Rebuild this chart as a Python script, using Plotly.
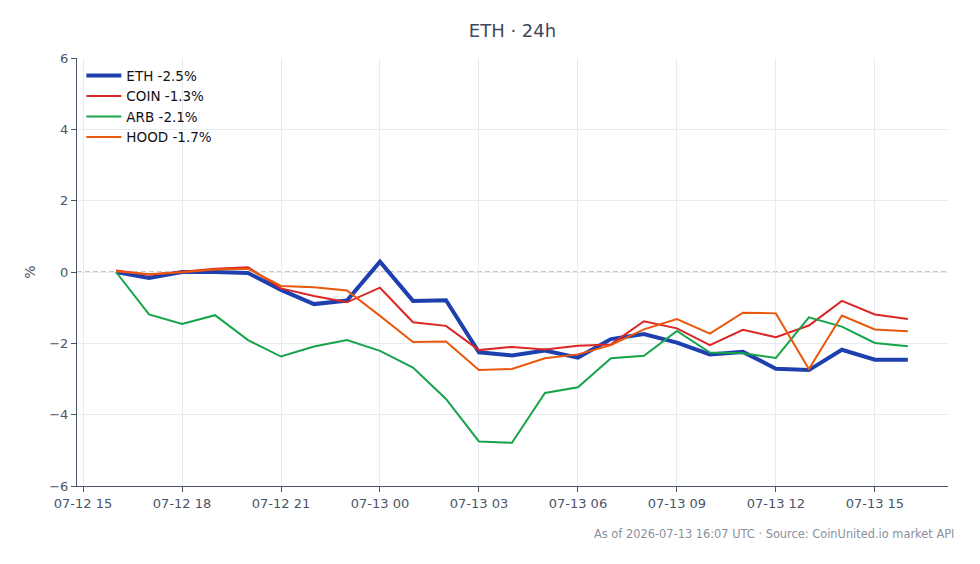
import plotly.graph_objects as go
import pandas as pd

times = pd.date_range("2026-07-12 16:00", "2026-07-13 16:00", freq="h")

eth = [0.0, -0.17, 0.0, 0.0, -0.03, -0.5, -0.9, -0.8, 0.29, -0.81, -0.79, -2.25, -2.34, -2.2, -2.4,
       -1.88, -1.74, -1.98, -2.31, -2.24, -2.71, -2.75, -2.18, -2.46, -2.46]
coin = [0.04, -0.08, 0.01, 0.09, 0.13, -0.46, -0.67, -0.85, -0.44, -1.41, -1.51, -2.19, -2.1, -2.17, -2.07,
        -2.03, -1.38, -1.58, -2.05, -1.62, -1.83, -1.5, -0.81, -1.19, -1.32]
arb = [0.0, -1.19, -1.46, -1.21, -1.91, -2.37, -2.09, -1.91, -2.21, -2.68, -3.56, -4.75, -4.79, -3.39, -3.23,
       -2.42, -2.35, -1.65, -2.26, -2.28, -2.41, -1.27, -1.53, -1.99, -2.08]
hood = [0.02, -0.06, -0.01, 0.07, 0.09, -0.39, -0.43, -0.52, -1.23, -1.96, -1.95, -2.75, -2.72, -2.42, -2.31,
        -2.05, -1.61, -1.32, -1.73, -1.14, -1.16, -2.72, -1.22, -1.61, -1.66]

series = [
    ("ETH -2.5%", eth, "#1e40af", 4),
    ("COIN -1.3%", coin, "#dc2626", 2),
    ("ARB -2.1%", arb, "#16a34a", 2),
    ("HOOD -1.7%", hood, "#ea580c", 2),
]

fig = go.Figure()
for name, vals, color, w in series:
    fig.add_trace(go.Scatter(x=times, y=vals, mode="lines", name=name,
                             line=dict(color=color, width=w)))

fig.add_shape(type="line", xref="paper", x0=0, x1=1, yref="y", y0=0, y1=0,
              line=dict(color="#8592aa", width=1, dash="5px,3px"), layer="between")

axis_font = dict(family="DejaVu Sans", size=13, color="#4a5568")
fig.update_layout(
    width=980, height=564,
    margin=dict(l=77, r=32, t=58, b=78),
    paper_bgcolor="white", plot_bgcolor="white",
    font=dict(family="DejaVu Sans", size=13, color="#4a5568"),
    title=dict(text="ETH · 24h", x=0.5, xref="paper", xanchor="center", y=0.945, yanchor="middle",
               font=dict(family="DejaVu Sans", size=18, color="#3f4a5c")),
    showlegend=True,
    legend=dict(x=0.005, y=0.995, xanchor="left", yanchor="top", bgcolor="rgba(255,255,255,0)",
                itemwidth=35,
                font=dict(family="DejaVu Sans", size=13.5, color="#111111"), tracegroupgap=0),
    xaxis=dict(range=["2026-07-12 14:49", "2026-07-13 17:13"], tickformat="%m-%d %H",
               tick0="2026-07-12 15:00", dtick=3 * 3600000,
               showline=True, linecolor="#4a5568", linewidth=1, ticks="outside", ticklen=5,
               tickcolor="#4a5568", showgrid=True, gridcolor="#e8ebf0", zeroline=False,
               tickfont=axis_font),
    yaxis=dict(range=[-6, 6], dtick=2, title=dict(text="%", font=dict(family="DejaVu Sans", size=14, color="#4a5568"), standoff=10),
               showline=True, linecolor="#4a5568", linewidth=1, ticks="outside", ticklen=5,
               tickcolor="#4a5568", showgrid=True, gridcolor="#e8ebf0", zeroline=False,
               tickfont=axis_font),
    annotations=[dict(text="As of 2026-07-13 16:07 UTC · Source: CoinUnited.io market API",
                      xref="paper", yref="paper", x=1.009, y=-0.09, xanchor="right", yanchor="top",
                      showarrow=False, font=dict(family="DejaVu Sans", size=11.4, color="#8a919c"))],
)

fig.write_html("out.html")
